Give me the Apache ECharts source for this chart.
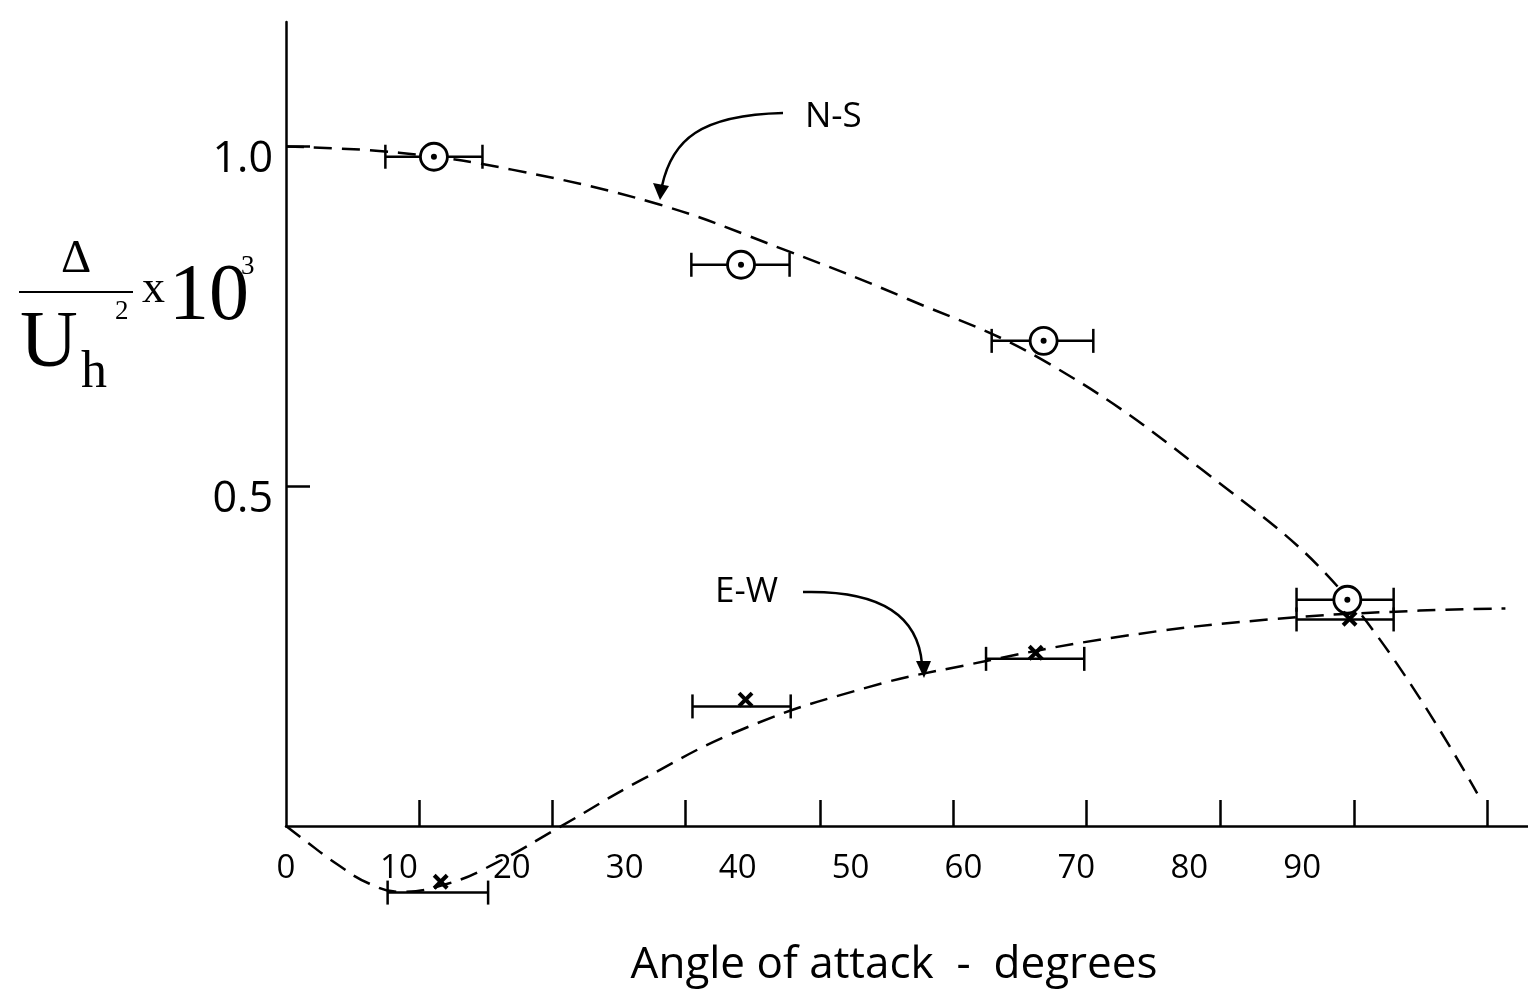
<!DOCTYPE html>
<html>
<head>
<meta charset="utf-8">
<script src="https://cdn.jsdelivr.net/npm/echarts@6/dist/echarts.min.js"></script>
<style>
  html, body { margin: 0; padding: 0; background: #fff; }
  #chart { width: 1528px; height: 992px; }
</style>
</head>
<body>
<div id="chart"></div>
<script>
// measured points (angle in degrees, value = delta/Uh^2 x 10^3)
var nsAngle = [13.1, 40.3, 67.1, 94.0];
var nsValue = [0.985, 0.826, 0.714, 0.333];
var nsErrLow = [8.8, 35.9, 62.5, 89.5];
var nsErrHigh = [17.4, 44.6, 71.5, 98.1];

var ewAngle = [13.7, 40.7, 66.4, 94.2];
var ewValue = [-0.082, 0.186, 0.255, 0.305];
var ewErrLow = [9.0, 36.0, 62.0, 89.5];
var ewErrHigh = [17.9, 44.7, 70.7, 98.1];
var ewErrLevel = [-0.098, 0.176, 0.246, 0.304];

// hand drawn dashed curves
var nsCurveAngle = [0, 10, 20, 33, 44, 55, 67, 81, 94, 105.5];
var nsCurveValue = [1.0, 0.991, 0.966, 0.915, 0.849, 0.776, 0.686, 0.526, 0.336, 0.048];
var ewCurveAngle = [0, 1.5, 4.5, 7.4, 10.1, 14.3, 18.3, 24.3, 31.6, 40.8, 51.5, 60, 73.2, 87.1, 100.4, 108];
var ewCurveValue = [0, -0.019, -0.056, -0.085, -0.097, -0.085, -0.057, -0.001, 0.069, 0.145, 0.204, 0.236, 0.277, 0.304, 0.317, 0.320];

// axis ticks and labels
var xLabelValues = [0, 10, 20, 30, 40, 50, 60, 70, 80, 90];
var xTickValues = [11.8, 23.6, 35.4, 47.3, 59.1, 70.9, 82.7, 94.6, 106.4];
var yLabelValues = [0.5, 1.0];

function pairs(xs, ys) {
    var out = [];
    for (var i = 0; i < xs.length; i++) out.push([xs[i], ys[i]]);
    return out;
}
function bars(lo, hi, lvl) {
    var out = [];
    for (var i = 0; i < lo.length; i++) out.push([lo[i], hi[i], lvl[i]]);
    return out;
}

var chart = echarts.init(document.getElementById('chart'));
var ink = '#000';
var sans = '"Open Sans", sans-serif';
var serif = '"Liberation Serif", "DejaVu Serif", serif';

function renderErrBar(params, api) {
    var a = api.coord([api.value(0), api.value(2)]);
    var b = api.coord([api.value(1), api.value(2)]);
    var st = { stroke: ink, lineWidth: 2.5 };
    return {
        type: 'group',
        children: [
            { type: 'line', shape: { x1: a[0], y1: a[1], x2: b[0], y2: b[1] }, style: st },
            { type: 'line', shape: { x1: a[0], y1: a[1] - 12, x2: a[0], y2: a[1] + 12 }, style: st },
            { type: 'line', shape: { x1: b[0], y1: b[1] - 12, x2: b[0], y2: b[1] + 12 }, style: st }
        ]
    };
}
function renderCross(params, api) {
    var p = api.coord([api.value(0), api.value(1)]);
    var s = 6.5;
    var st = { stroke: ink, lineWidth: 4 };
    return {
        type: 'group',
        children: [
            { type: 'line', shape: { x1: p[0] - s, y1: p[1] - s, x2: p[0] + s, y2: p[1] + s }, style: st },
            { type: 'line', shape: { x1: p[0] - s, y1: p[1] + s, x2: p[0] + s, y2: p[1] - s }, style: st }
        ]
    };
}

var option = {
    animation: false,
    backgroundColor: '#fff',
    grid: { left: 286, right: 0, top: 22, bottom: 163 },
    xAxis: {
        type: 'value',
        min: 0,
        max: 110,
        name: 'Angle of attack  -  degrees',
        nameLocation: 'middle',
        nameGap: 117,
        nameTextStyle: { fontFamily: sans, fontSize: 44, color: ink, padding: [0, 26, 0, 0] },
        axisLine: { show: true, lineStyle: { color: ink, width: 2.5 } },
        axisTick: { show: true, inside: true, length: 26, customValues: xTickValues, lineStyle: { color: ink, width: 2.5 } },
        axisLabel: {
            customValues: xLabelValues,
            margin: 26,
            fontFamily: sans,
            fontSize: 33,
            color: ink,
            formatter: function (v) { return String(v); }
        },
        splitLine: { show: false }
    },
    yAxis: {
        type: 'value',
        min: 0,
        max: 1.1833,
        axisLine: { show: true, lineStyle: { color: ink, width: 2.5 } },
        axisTick: { show: true, inside: true, length: 24, customValues: yLabelValues, lineStyle: { color: ink, width: 2.5 } },
        axisLabel: {
            customValues: yLabelValues,
            margin: 13,
            verticalAlign: 'top',
            lineHeight: 26,
            fontFamily: sans,
            fontSize: 43,
            color: ink,
            formatter: function (v) { return v.toFixed(1); }
        },
        splitLine: { show: false }
    },
    series: [
        {
            name: 'N-S curve',
            type: 'line',
            smooth: 0.4,
            symbol: 'none',
            clip: false,
            lineStyle: { color: ink, width: 2.5, type: [18, 10] },
            data: pairs(nsCurveAngle, nsCurveValue),
            z: 2
        },
        {
            name: 'E-W curve',
            type: 'line',
            smooth: 0.45,
            symbol: 'none',
            clip: false,
            lineStyle: { color: ink, width: 2.5, type: [18, 10] },
            data: pairs(ewCurveAngle, ewCurveValue),
            z: 2
        },
        {
            name: 'N-S range',
            type: 'custom',
            clip: false,
            renderItem: renderErrBar,
            data: bars(nsErrLow, nsErrHigh, nsValue),
            z: 3
        },
        {
            name: 'E-W range',
            type: 'custom',
            clip: false,
            renderItem: renderErrBar,
            data: bars(ewErrLow, ewErrHigh, ewErrLevel),
            z: 3
        },
        {
            name: 'N-S',
            type: 'scatter',
            symbol: 'circle',
            symbolSize: 27,
            clip: false,
            itemStyle: { color: '#fff', borderColor: ink, borderWidth: 2.8, opacity: 1 },
            data: pairs(nsAngle, nsValue),
            z: 4
        },
        {
            name: 'N-S dot',
            type: 'scatter',
            symbol: 'circle',
            symbolSize: 6,
            clip: false,
            itemStyle: { color: ink, opacity: 1 },
            data: pairs(nsAngle, nsValue),
            z: 5
        },
        {
            name: 'E-W',
            type: 'custom',
            clip: false,
            renderItem: renderCross,
            data: pairs(ewAngle, ewValue),
            z: 5
        }
    ],
    graphic: [
        // y axis title: delta / Uh^2 x 10^3
        { type: 'text', left: 61, top: 236, style: { text: '\u0394', font: '47px ' + serif, fill: ink } },
        { type: 'line', shape: { x1: 19, y1: 292, x2: 133, y2: 292 }, style: { stroke: ink, lineWidth: 2 } },
        { type: 'text', x: 20, y: 345, style: { text: 'U', font: '80px ' + serif, fill: ink, verticalAlign: 'middle' } },
        { type: 'text', x: 81, y: 373, style: { text: 'h', font: '52px ' + serif, fill: ink, verticalAlign: 'middle' } },
        { type: 'text', x: 115, y: 312, style: { text: '2', font: '27px ' + serif, fill: ink, verticalAlign: 'middle' } },
        { type: 'text', x: 142, y: 290, style: { text: 'x', font: '46px ' + serif, fill: ink, verticalAlign: 'middle' } },
        { type: 'text', x: 169, y: 298, style: { text: '10', font: '80px ' + serif, fill: ink, verticalAlign: 'middle' } },
        { type: 'text', x: 241, y: 267, style: { text: '3', font: '27px ' + serif, fill: ink, verticalAlign: 'middle' } },

        // N-S callout
        { type: 'text', x: 805, y: 117, style: { text: 'N-S', font: '35px ' + sans, fill: ink, verticalAlign: 'middle' } },
        { type: 'bezierCurve', shape: { x1: 783, y1: 113, cpx1: 700, cpy1: 115, cpx2: 672, cpy2: 140, x2: 662, y2: 186 }, style: { stroke: ink, lineWidth: 2.5, fill: null } },
        { type: 'polygon', shape: { points: [[660, 200], [653, 183], [669, 186]] }, style: { fill: ink } },

        // E-W callout
        { type: 'text', x: 715, y: 592, style: { text: 'E-W', font: '35px ' + sans, fill: ink, verticalAlign: 'middle' } },
        { type: 'bezierCurve', shape: { x1: 803, y1: 592, cpx1: 880, cpy1: 590, cpx2: 918, cpy2: 615, x2: 922, y2: 664 }, style: { stroke: ink, lineWidth: 2.5, fill: null } },
        { type: 'polygon', shape: { points: [[924, 678], [916, 661], [931, 661]] }, style: { fill: ink } }
    ]
};

chart.setOption(option);
</script>
</body>
</html>
